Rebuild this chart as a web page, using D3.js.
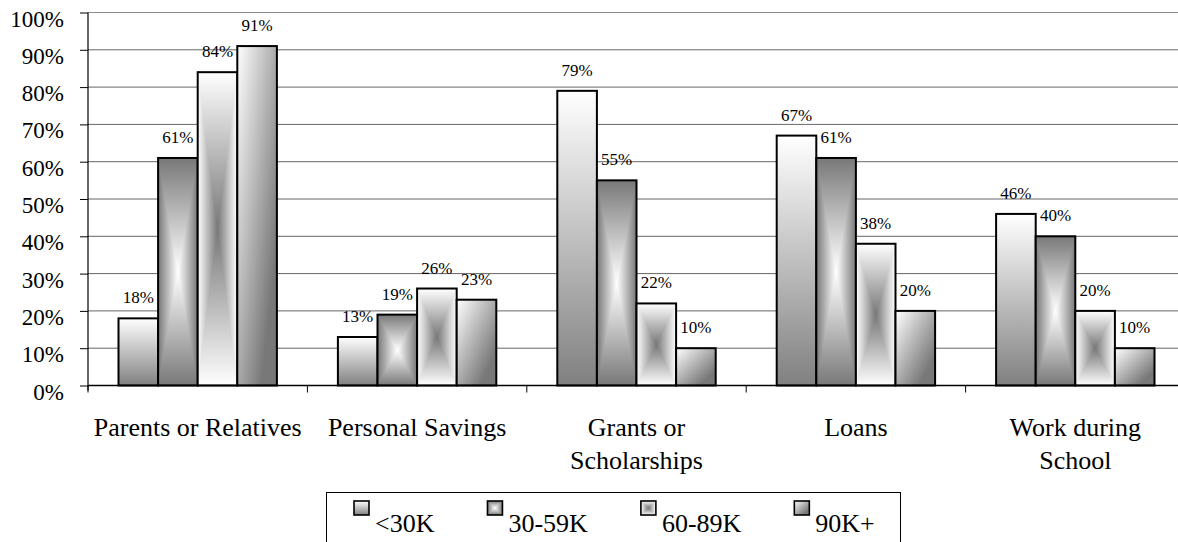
<!DOCTYPE html>
<html><head><meta charset="utf-8">
<script src="https://cdn.jsdelivr.net/npm/d3@7"></script>
<style>body{margin:0;background:#fff}svg{display:block}text{font-family:"Liberation Serif","Times New Roman","DejaVu Serif",serif;fill:#000}</style>
</head><body>
<svg id="chart" width="1178" height="542"></svg>
<script>
const categories = ["Parents or Relatives", "Personal Savings", "Grants or\nScholarships", "Loans", "Work during\nSchool"];
const seriesNames = ["<30K", "30-59K", "60-89K", "90K+"];
const valsUnder30 = [18, 13, 79, 67, 46];
const vals30to59 = [61, 19, 55, 61, 40];
const vals60to89 = [84, 26, 22, 38, 20];
const vals90plus = [91, 23, 10, 20, 10];
const yTicks = [0, 10, 20, 30, 40, 50, 60, 70, 80, 90, 100];

const seriesVals = [valsUnder30, vals30to59, vals60to89, vals90plus];
const W = 1178, H = 542;
const plotLeft = 88, groupW = 219.4, plotTop = 12.5, plotBottom = 385.5;
const DARK = "#787878";

const svg = d3.select("#chart");
const defs = svg.append("defs");
function lin(id, x1, y1, x2, y2, stops) {
  const g = defs.append("linearGradient").attr("id", id)
    .attr("x1", x1).attr("y1", y1).attr("x2", x2).attr("y2", y2);
  stops.forEach(s => g.append("stop").attr("offset", s[0]).attr("stop-color", s[1]));
}
lin("g0", 0, 0, 0, 1, [[0, "#ffffff"], [1, "#808080"]]);
lin("g1v", 0, 0, 0, 1, [[0, DARK], [0.5, "#ffffff"], [1, DARK]]);
lin("g1l", 0, 0, 1, 0, [[0, DARK], [1, "#ffffff"]]);
lin("g1r", 1, 0, 0, 0, [[0, DARK], [1, "#ffffff"]]);
lin("g2v", 0, 0, 0, 1, [[0, "#ffffff"], [0.5, DARK], [1, "#ffffff"]]);
lin("g2l", 0, 0, 1, 0, [[0, "#ffffff"], [1, DARK]]);
lin("g2r", 1, 0, 0, 0, [[0, "#ffffff"], [1, DARK]]);
lin("g3", 0, 0, 1, 1, [[0, "#ffffff"], [0.8, DARK], [1, DARK]]);

const x0 = d3.scaleBand().domain(categories).range([plotLeft, plotLeft + groupW * categories.length]);
const x1 = d3.scaleBand().domain(seriesNames).range([30.5, groupW - 30.5]);
const y = d3.scaleLinear().domain([0, 100]).range([plotBottom, plotTop]);

// gridlines
svg.append("g").selectAll("line").data(yTicks.filter(d => d > 0)).join("line")
  .attr("x1", plotLeft).attr("x2", W).attr("y1", d => y(d)).attr("y2", d => y(d))
  .attr("stroke", d => d === 100 ? "#8a8a8a" : "#666").attr("stroke-width", 1);

function drawFilled(g, s, bx, by, bw, bh, sw) {
  if (s === 0 || s === 3) {
    g.append("rect").attr("x", bx).attr("y", by).attr("width", bw).attr("height", bh)
      .attr("fill", s === 0 ? "url(#g0)" : "url(#g3)");
  } else {
    const p = s === 1 ? "g1" : "g2";
    const cx = bx + bw / 2, cy = by + bh / 2;
    g.append("rect").attr("x", bx).attr("y", by).attr("width", bw).attr("height", bh).attr("fill", `url(#${p}v)`);
    g.append("path").attr("d", `M${bx},${by}L${cx},${cy}L${bx},${by + bh}Z`).attr("fill", `url(#${p}l)`);
    g.append("path").attr("d", `M${bx + bw},${by}L${cx},${cy}L${bx + bw},${by + bh}Z`).attr("fill", `url(#${p}r)`);
  }
  g.append("rect").attr("x", bx).attr("y", by).attr("width", bw).attr("height", bh)
    .attr("fill", "none").attr("stroke", "#000").attr("stroke-width", sw);
}

// bars
const barsG = svg.append("g");
categories.forEach((c, ci) => {
  seriesNames.forEach((sn, si) => {
    const v = seriesVals[si][ci];
    const bx = x0(c) + x1(sn), bw = x1.bandwidth();
    const by = y(v), bh = y(0) - y(v);
    drawFilled(barsG.append("g"), si, bx, by, bw, bh, 2);
    barsG.append("text").attr("x", bx + bw / 2).attr("y", by - 15)
      .attr("text-anchor", "middle").style("font-size", "17px")
      .text(v + "%");
  });
});

// y axis
const yAxis = d3.axisLeft(y).tickValues(yTicks).tickSize(8).tickPadding(16).tickFormat(d => d + "%");
const ya = svg.append("g").attr("transform", `translate(${plotLeft},0)`).call(yAxis);
ya.attr("font-family", null).attr("font-size", null);
ya.select(".domain").remove();
ya.selectAll(".tick line").attr("stroke", "#000");
ya.selectAll(".tick text").style("font-size", "23px").attr("fill", "#000").attr("dy", 13.5);
svg.append("line").attr("x1", plotLeft).attr("x2", plotLeft).attr("y1", plotTop).attr("y2", plotBottom + 5)
  .attr("stroke", "#000").attr("stroke-width", 1.2);

// x axis
svg.append("line").attr("x1", plotLeft).attr("x2", W).attr("y1", plotBottom).attr("y2", plotBottom)
  .attr("stroke", "#000").attr("stroke-width", 1.5);
svg.append("g").selectAll("line").data(d3.range(categories.length + 1)).join("line")
  .attr("x1", i => plotLeft + i * groupW).attr("x2", i => plotLeft + i * groupW)
  .attr("y1", plotBottom).attr("y2", plotBottom + 7).attr("stroke", "#000");
const catG = svg.append("g");
categories.forEach(c => {
  const t = catG.append("text").attr("x", x0(c) + groupW / 2).attr("y", 436)
    .attr("text-anchor", "middle").style("font-size", "26px");
  c.split("\n").forEach((ln, i) => {
    t.append("tspan").attr("x", x0(c) + groupW / 2).attr("dy", i === 0 ? 0 : 33).text(ln);
  });
});

// legend
const lg = svg.append("g");
lg.append("rect").attr("x", 326.5).attr("y", 492.5).attr("width", 574).attr("height", 80)
  .attr("fill", "#fff").attr("stroke", "#000").attr("stroke-width", 1);
let lx = 354;
seriesNames.forEach((sn, si) => {
  const g = lg.append("g");
  drawFilled(g, si, lx, 501, 15, 14, 1.6);
  const t = g.append("text").attr("x", lx + 21).attr("y", 532)
    .style("font-size", "26px").text(sn);
  lx += 21 + t.node().getComputedTextLength() + 53;
});
</script>
</body></html>
